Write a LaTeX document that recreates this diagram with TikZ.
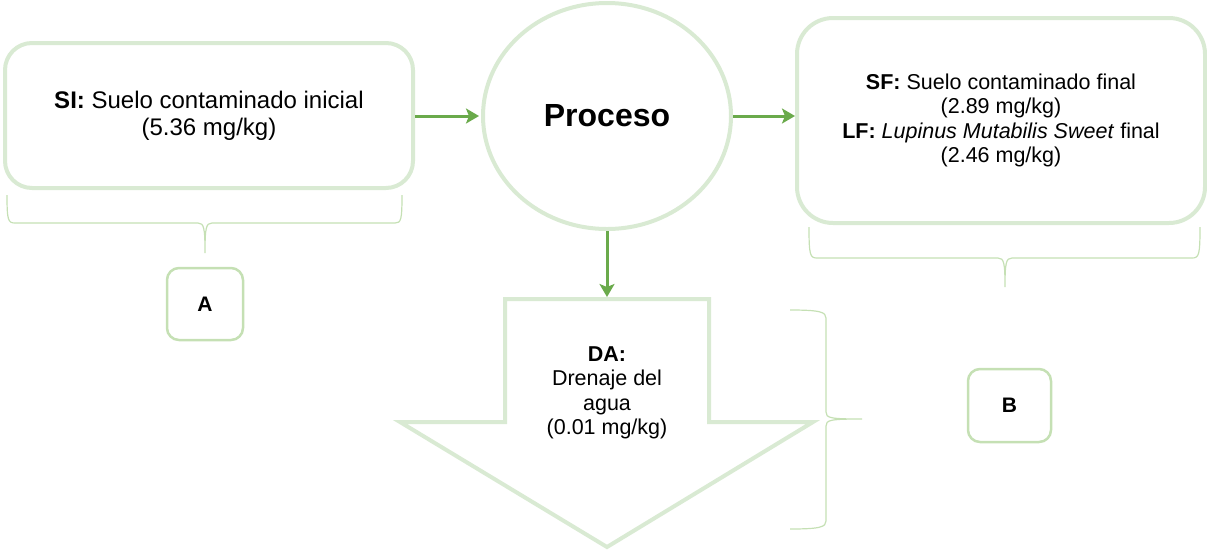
\documentclass[tikz,border=0pt]{standalone}
\usepackage{fontspec}
\setmainfont{Liberation Sans}
\usetikzlibrary{shapes.geometric,arrows.meta}
\definecolor{palegreen}{HTML}{D9EAD3}
\definecolor{bracegreen}{HTML}{C5E0B4}
\definecolor{arrowgreen}{HTML}{6AAA4B}
\tikzset{
  bigbox/.style={draw=palegreen, line width=4pt, fill=white, align=center, inner sep=0pt},
  smallbox/.style={draw=bracegreen, line width=2.5pt, rounded corners=12pt, align=center, inner sep=0pt,
    font=\fontsize{21}{24}\selectfont\bfseries},
  arr/.style={draw=arrowgreen, line width=3pt, -{Stealth[length=13pt,width=15pt,inset=3pt]}},
  bracel/.style={draw=bracegreen, line width=1.2pt},
  blockarrow/.style={draw=palegreen, line width=4pt, line join=miter}
}
\begin{document}
\begin{tikzpicture}[x=1pt,y=-1pt]
\useasboundingbox (0,0) rectangle (1207,550);

% nodes
\node[bigbox, rounded corners=27pt, minimum width=408pt, minimum height=145pt,
      font=\fontsize{24}{27}\selectfont] (si) at (209,115.5)
  {\textbf{SI:} Suelo contaminado inicial\\(5.36 mg/kg)};
\node[bigbox, ellipse, minimum width=248pt, minimum height=226pt,
      font=\fontsize{32}{36}\selectfont\bfseries] (proc) at (607,116) {Proceso};
\node[bigbox, rounded corners=36pt, minimum width=408pt, minimum height=205pt,
      font=\fontsize{21.5}{24.5}\selectfont] (sf) at (1001,120.5)
  {\textbf{SF:} Suelo contaminado final\\(2.89 mg/kg)\\\textbf{LF:} \textit{Lupinus Mutabilis Sweet} final\\(2.46 mg/kg)};

% block arrow (DA)
\draw[blockarrow] (505,299) -- (709,299) -- (709,422) -- (813,422) -- (607,547)
  -- (400,422) -- (505,422) -- cycle;
\coordinate (datop) at (607,297);
\node[align=center, inner sep=0pt, font=\fontsize{21.5}{24.5}\selectfont] (da) at (607,393)
  {\textbf{DA:}\\Drenaje del\\agua\\(0.01 mg/kg)};

% small label boxes
\node[smallbox, minimum width=76pt, minimum height=72pt] (a) at (205,304) {A};
\node[smallbox, minimum width=83pt, minimum height=73pt] (b) at (1009.5,405.5) {B};

% connectors
\draw[arr] (si.east |- proc.west) -- ([xshift=-2pt]proc.west);
\draw[arr] (proc.east) -- (proc.east -| sf.west);
\draw[arr] (proc.south) -- (datop);

% brace under SI
\draw[bracel] (7,195) .. controls (7,220) and (8,223) .. (15,223) -- (198,223)
  .. controls (204,223) and (205,228) .. (205,253)
  .. controls (205,228) and (206,223) .. (212,223) -- (395,223)
  .. controls (401,223) and (402,220) .. (402,195);
% brace under SF
\draw[bracel] (809,227) .. controls (809,255) and (810,258) .. (817,258) -- (998,258)
  .. controls (1004,258) and (1005,263) .. (1005,287)
  .. controls (1005,263) and (1006,258) .. (1012,258) -- (1192,258)
  .. controls (1199,258) and (1200,255) .. (1200,227);
% brace right of DA
\draw[bracel] (790,310) .. controls (820,310) and (826,312) .. (826,318) -- (826,412)
  .. controls (826,418) and (830,419) .. (862,419)
  .. controls (830,419) and (826,420) .. (826,426) -- (826,521)
  .. controls (826,527) and (820,529) .. (790,529);
\end{tikzpicture}
\end{document}
